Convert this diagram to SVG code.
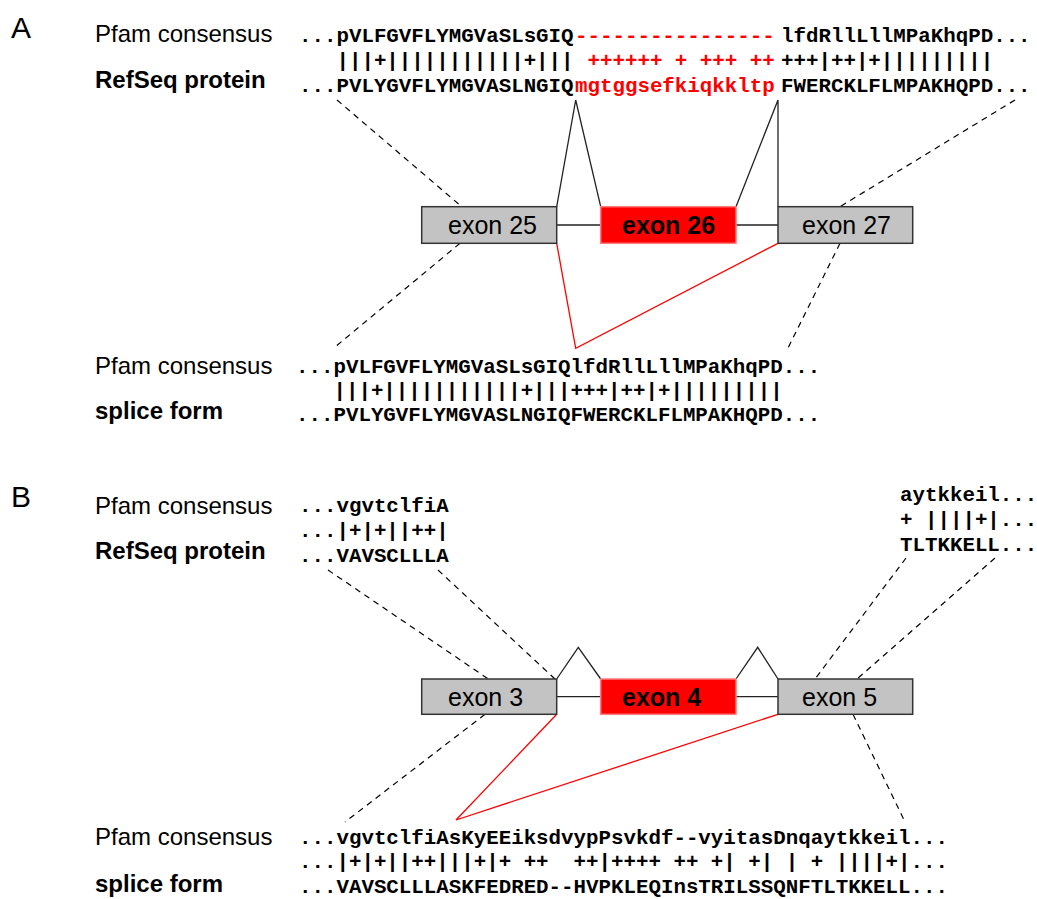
<svg xmlns="http://www.w3.org/2000/svg" width="1037" height="899" viewBox="0 0 1037 899">
<style>
  .lbl { font-family: "Liberation Sans", Arial, sans-serif; font-size: 24px; fill: #000; }
  .bold { font-weight: bold; }
  .panel { font-family: "Liberation Sans", Arial, sans-serif; font-size: 30px; fill: #000; }
  .seq { font-family: "Liberation Mono", "Courier New", monospace; font-size: 20.8px; font-weight: bold; fill: #000; white-space: pre; }
  .red { fill: #ff0000; }
  .ex { fill: #c3c3c3; stroke: #333; stroke-width: 1.5; }
  .exr { fill: #ff0000; stroke: #ff7b7b; stroke-width: 1.5; }
  .exl { font-family: "Liberation Sans", Arial, sans-serif; font-size: 25px; fill: #000; }
  .intron { stroke: #222; stroke-width: 1.3; fill: none; }
  .dash { stroke: #000; stroke-width: 1.2; stroke-dasharray: 6 5; fill: none; }
  .skip { stroke: #ff0000; stroke-width: 1.3; fill: none; }
</style>

<!-- panel letters -->
<text class="panel" x="11" y="38">A</text>
<text class="panel" x="11" y="507">B</text>

<!-- connectors: introns, splice paths, sequence-to-exon guides -->
<g id="connectors">
  <!-- A -->
  <line class="intron" x1="556.7" y1="225" x2="600.7" y2="225"/>
  <line class="intron" x1="736" y1="225" x2="778" y2="225"/>
  <polyline class="intron" points="556.7,206.7 575.7,100 600.7,206.7"/>
  <polyline class="intron" points="736,206.7 778,100 778,206.7"/>
  <polyline class="skip" points="556.7,243.3 575.7,348.3 778,243.3"/>
  <line class="dash" x1="337" y1="100" x2="461.7" y2="206.7"/>
  <line class="dash" x1="460" y1="243.3" x2="335" y2="347"/>
  <line class="dash" x1="1015" y1="100" x2="840" y2="206.7"/>
  <line class="dash" x1="840" y1="243.3" x2="787" y2="350"/>
  <!-- B -->
  <line class="intron" x1="556.7" y1="696.7" x2="600.7" y2="696.7"/>
  <line class="intron" x1="736" y1="696.7" x2="778" y2="696.7"/>
  <polyline class="intron" points="556.7,679 578.3,647.3 600.7,679"/>
  <polyline class="intron" points="736,679 757.7,647.3 778,679"/>
  <polyline class="skip" points="556.7,714.3 456,820 778,714.3"/>
  <line class="dash" x1="328" y1="570" x2="488.3" y2="679"/>
  <line class="dash" x1="438" y1="570" x2="555" y2="679"/>
  <line class="dash" x1="906" y1="558" x2="815" y2="679"/>
  <line class="dash" x1="995" y1="558" x2="857" y2="679"/>
  <line class="dash" x1="485" y1="714.3" x2="345" y2="822"/>
  <line class="dash" x1="853" y1="714.3" x2="905" y2="822"/>
</g>

<!-- exons, panel A -->
<g id="exon25">
  <rect class="ex" x="421.7" y="206.7" width="135" height="36.6"/>
  <text class="exl" x="448" y="234">exon 25</text>
</g>
<g id="exon26">
  <rect class="exr" x="600.7" y="206.7" width="135.3" height="36.6"/>
  <text class="exl bold" x="622" y="234">exon 26</text>
</g>
<g id="exon27">
  <rect class="ex" x="778" y="206.7" width="134.7" height="36.6"/>
  <text class="exl" x="802" y="234">exon 27</text>
</g>

<!-- exons, panel B -->
<g id="exon3">
  <rect class="ex" x="421.7" y="679" width="135" height="35.3"/>
  <text class="exl" x="448" y="705.5">exon 3</text>
</g>
<g id="exon4">
  <rect class="exr" x="600.7" y="679" width="135.3" height="35.3"/>
  <text class="exl bold" x="622" y="705.5">exon 4</text>
</g>
<g id="exon5">
  <rect class="ex" x="778" y="679" width="134.7" height="35.3"/>
  <text class="exl" x="802" y="705.5">exon 5</text>
</g>

<!-- alignment A: RefSeq protein -->
<g id="alignA-refseq">
  <text class="lbl" x="95" y="41.5">Pfam consensus</text>
  <text class="lbl bold" x="95" y="87.5">RefSeq protein</text>
  <text class="seq" x="299" y="41.5" xml:space="preserve">...pVLFGVFLYMGVaSLsGIQ</text>
  <text class="seq red" x="575" y="41.5" xml:space="preserve">----------------</text>
  <text class="seq" x="781" y="41.5" xml:space="preserve">lfdRllLllMPaKhqPD...</text>
  <text class="seq" x="299" y="66.5" xml:space="preserve">   |||+|||||||||||+|||</text>
  <text class="seq red" x="575" y="66.5" xml:space="preserve"> ++++++ + +++ ++</text>
  <text class="seq" x="781" y="66.5" xml:space="preserve">+++|++|+|||||||||</text>
  <text class="seq" x="299" y="91.5" xml:space="preserve">...PVLYGVFLYMGVASLNGIQ</text>
  <text class="seq red" x="575" y="91.5" xml:space="preserve">mgtggsefkiqkkltp</text>
  <text class="seq" x="781" y="91.5" xml:space="preserve">FWERCKLFLMPAKHQPD...</text>
</g>

<!-- alignment A: splice form -->
<g id="alignA-splice">
  <text class="lbl" x="95" y="373.5">Pfam consensus</text>
  <text class="lbl bold" x="95" y="419">splice form</text>
  <text class="seq" x="296" y="373" xml:space="preserve">...pVLFGVFLYMGVaSLsGIQlfdRllLllMPaKhqPD...</text>
  <text class="seq" x="296" y="397" xml:space="preserve">   |||+|||||||||||+|||+++|++|+|||||||||</text>
  <text class="seq" x="296" y="421" xml:space="preserve">...PVLYGVFLYMGVASLNGIQFWERCKLFLMPAKHQPD...</text>
</g>

<!-- alignment B: RefSeq protein -->
<g id="alignB-refseq">
  <text class="lbl" x="95" y="514">Pfam consensus</text>
  <text class="lbl bold" x="95" y="559">RefSeq protein</text>
  <text class="seq" x="299" y="512" xml:space="preserve">...vgvtclfiA</text>
  <text class="seq" x="299" y="537" xml:space="preserve">...|+|+||++|</text>
  <text class="seq" x="299" y="562" xml:space="preserve">...VAVSCLLLA</text>
  <text class="seq" x="900" y="501" xml:space="preserve">aytkkeil...</text>
  <text class="seq" x="900" y="526" xml:space="preserve">+ ||||+|...</text>
  <text class="seq" x="900" y="551" xml:space="preserve">TLTKKELL...</text>
</g>

<!-- alignment B: splice form -->
<g id="alignB-splice">
  <text class="lbl" x="95" y="844.5">Pfam consensus</text>
  <text class="lbl bold" x="95" y="892">splice form</text>
  <text class="seq" x="299" y="844" xml:space="preserve">...vgvtclfiAsKyEEiksdvypPsvkdf--vyitasDnqaytkkeil...</text>
  <text class="seq" x="299" y="868" xml:space="preserve">...|+|+||++|||+|+ ++  ++|++++ ++ +| +| | + ||||+|...</text>
  <text class="seq" x="299" y="893" xml:space="preserve">...VAVSCLLLASKFEDRED--HVPKLEQInsTRILSSQNFTLTKKELL...</text>
</g>
</svg>
